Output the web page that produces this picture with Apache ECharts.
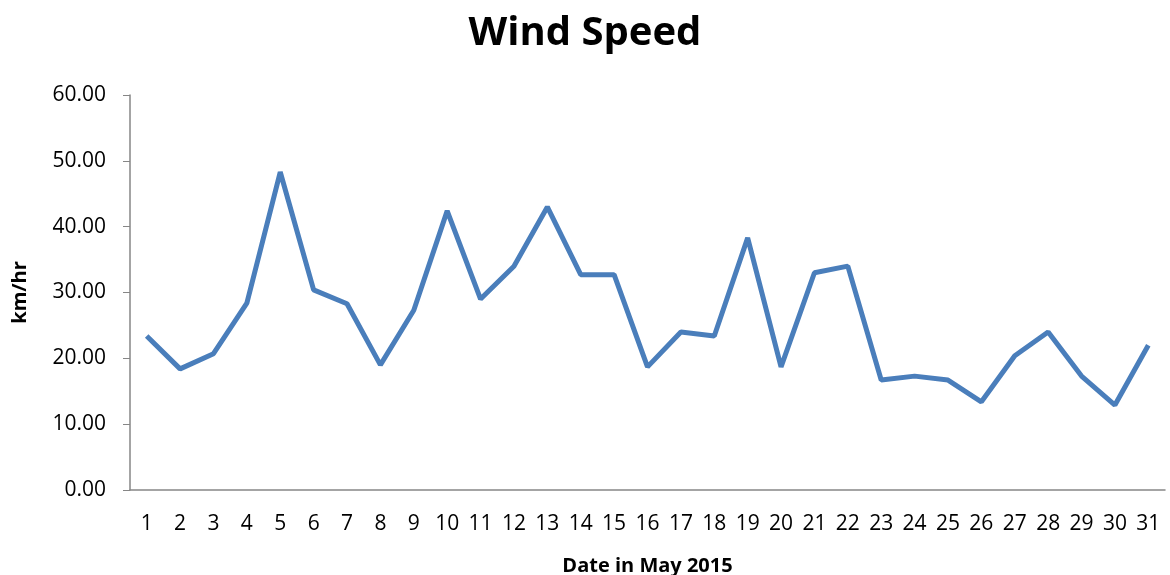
<!DOCTYPE html>
<html>
<head>
<meta charset="utf-8">
<script src="https://cdn.jsdelivr.net/npm/echarts@6/dist/echarts.min.js"></script>
<style>
  html, body { margin: 0; padding: 0; background: #fff; }
  #chart { width: 1170px; height: 575px; }
</style>
</head>
<body>
<div id="chart"></div>
<script>
var days = [];
for (var d = 1; d <= 31; d++) days.push(String(d));
var windSpeed = [23.4, 18.4, 20.7, 28.4, 48.3, 30.4, 28.3, 19.0, 27.3, 42.4,
  29.0, 34.0, 43.0, 32.7, 32.7, 18.7, 24.0, 23.4, 38.3, 18.7,
  33.0, 34.0, 16.7, 17.3, 16.7, 13.4, 20.4, 24.0, 17.3, 12.9, 22.0];
var yTicks = [0, 10, 20, 30, 40, 50, 60];

var myChart = echarts.init(document.getElementById("chart"));
var font = "'Open Sans', sans-serif";
var option = {
  animation: false,
  title: {
    text: "Wind Speed",
    left: "center",
    top: 9,
    textStyle: { fontFamily: font, fontSize: 40, fontWeight: "bold", color: "#000" }
  },
  grid: { left: 130, right: 5, top: 95, bottom: 85, outerBoundsMode: "none", containLabel: false },
  xAxis: {
    type: "category",
    data: days,
    boundaryGap: true,
    name: "Date in May 2015",
    nameLocation: "middle",
    nameGap: 66,
    nameTextStyle: { fontFamily: font, fontSize: 20, fontWeight: "bold", color: "#000" },
    axisLine: { lineStyle: { color: "#868686", width: 1.5 } },
    axisTick: { show: false },
    axisLabel: { fontFamily: font, fontSize: 21, color: "#000", margin: 24, interval: 0 }
  },
  yAxis: {
    type: "value",
    min: yTicks[0],
    max: yTicks[yTicks.length - 1],
    interval: 10,
    name: "km/hr",
    nameLocation: "middle",
    nameGap: 100,
    nameTextStyle: { fontFamily: font, fontSize: 20, fontWeight: "bold", color: "#000" },
    axisLine: { show: true, lineStyle: { color: "#868686", width: 1.5 } },
    axisTick: { show: true, length: 7, lineStyle: { color: "#868686" } },
    splitLine: { show: false },
    axisLabel: {
      fontFamily: font, fontSize: 21, color: "#000", margin: 24,
      formatter: function (v) { return v.toFixed(2); }
    }
  },
  series: [{
    type: "line",
    data: windSpeed,
    symbol: "none",
    lineStyle: { color: "#4a7ebb", width: 5 }
  }]
};
myChart.setOption(option);
</script>
</body>
</html>
